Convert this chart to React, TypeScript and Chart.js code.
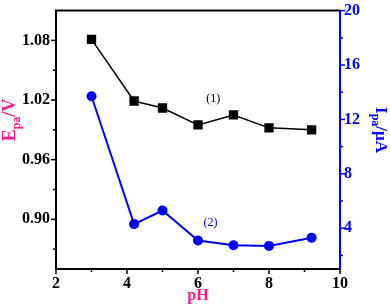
import React, { useEffect, useRef } from "react";
import { Chart, registerables } from "chart.js";

Chart.register(...registerables);

// ---- data ----
const phValues = [3, 4.2, 5, 6, 7, 8, 9.2];
const epaValues = [1.081, 1.019, 1.012, 0.995, 1.005, 0.992, 0.99];
const ipaValues = [13.7, 4.3, 5.3, 3.1, 2.75, 2.7, 3.3];

const xTicks = [2, 3, 4, 5, 6, 7, 8, 9, 10];
const xMajor = [2, 4, 6, 8, 10];
const yLeftTicks = [0.87, 0.9, 0.93, 0.96, 0.99, 1.02, 1.05, 1.08];
const yLeftMajor = [0.9, 0.96, 1.02, 1.08];
const yRightTicks = [2, 4, 6, 8, 10, 12, 14, 16, 18, 20];
const yRightMajor = [4, 8, 12, 16, 20];

const label1 = { text: "(1)", x: 6.43, y: 1.021 };
const label2 = { text: "(2)", x: 6.35, y: 4.4 };

const PINK = "#ff1a8c";
const BLUE = "#0000ff";
const SERIF = "'Liberation Serif', 'Times New Roman', serif";

const isIn = (arr: number[], v: number) => arr.some((a) => Math.abs(a - v) < 1e-6);

function drawRich(
  ctx: CanvasRenderingContext2D,
  cx: number,
  cy: number,
  angle: number,
  parts: { t: string; sub?: boolean }[],
  color: string,
  size: number
) {
  ctx.save();
  ctx.translate(cx, cy);
  ctx.rotate(angle);
  ctx.fillStyle = color;
  ctx.textBaseline = "alphabetic";
  ctx.textAlign = "left";
  const fontFor = (sub?: boolean) => `bold ${sub ? Math.round(size * 0.68) : size}px ${SERIF}`;
  let total = 0;
  const widths = parts.map((p) => {
    ctx.font = fontFor(p.sub);
    const w = ctx.measureText(p.t).width;
    total += w;
    return w;
  });
  let x = -total / 2;
  const base = size * 0.33;
  parts.forEach((p, i) => {
    ctx.font = fontFor(p.sub);
    ctx.fillText(p.t, x, base + (p.sub ? size * 0.28 : 0));
    x += widths[i];
  });
  ctx.restore();
}

const decorPlugin = {
  id: "decor",
  afterDraw(chart: any) {
    const ctx: CanvasRenderingContext2D = chart.ctx;
    const { left, right, top, bottom } = chart.chartArea;
    ctx.save();
    // top border
    ctx.strokeStyle = "#000";
    ctx.lineWidth = 2;
    ctx.beginPath();
    ctx.moveTo(left - 1, top);
    ctx.lineTo(right, top);
    ctx.stroke();

    // ticks
    const xs = chart.scales.x;
    const yl = chart.scales.y;
    const yr = chart.scales.y1;
    ctx.lineWidth = 1.5;
    ctx.strokeStyle = "#000";
    xs.ticks.forEach((t: any) => {
      const px = xs.getPixelForValue(t.value);
      const len = isIn(xMajor, t.value) ? 5 : 3;
      ctx.beginPath();
      ctx.moveTo(px, bottom);
      ctx.lineTo(px, bottom + len);
      ctx.stroke();
    });
    yl.ticks.forEach((t: any) => {
      const py = yl.getPixelForValue(t.value);
      const len = isIn(yLeftMajor, t.value) ? 5 : 3;
      ctx.beginPath();
      ctx.moveTo(left, py);
      ctx.lineTo(left - len, py);
      ctx.stroke();
    });
    ctx.strokeStyle = BLUE;
    yr.ticks.forEach((t: any) => {
      const py = yr.getPixelForValue(t.value);
      const len = isIn(yRightMajor, t.value) ? 5 : 3;
      ctx.beginPath();
      ctx.moveTo(right, py);
      ctx.lineTo(right + len, py);
      ctx.stroke();
    });

    // axis titles
    drawRich(ctx, (left + right) / 2, 295, 0, [{ t: "pH" }], PINK, 16);
    drawRich(
      ctx,
      9,
      120,
      -Math.PI / 2,
      [{ t: "E" }, { t: "pa", sub: true }, { t: "/V" }],
      PINK,
      18
    );
    drawRich(
      ctx,
      382,
      130,
      Math.PI / 2,
      [{ t: "I" }, { t: "pa", sub: true }, { t: "/μA" }],
      BLUE,
      17
    );

    // series labels
    ctx.font = `12px ${SERIF}`;
    ctx.textAlign = "center";
    ctx.textBaseline = "middle";
    ctx.fillStyle = "#000";
    ctx.fillText(label1.text, xs.getPixelForValue(label1.x), yl.getPixelForValue(label1.y));
    ctx.fillStyle = BLUE;
    ctx.fillText(label2.text, xs.getPixelForValue(label2.x), yr.getPixelForValue(label2.y));
    ctx.restore();
  },
};

export default function App() {
  const ref = useRef<HTMLCanvasElement | null>(null);
  useEffect(() => {
    document.body.style.margin = "0";
    if (!ref.current) return;
    const tickFont = { family: SERIF, size: 16, weight: "bold" as const };
    const chart = new Chart(ref.current, {
      type: "line",
      data: {
        datasets: [
          {
            label: "Epa",
            data: phValues.map((x, i) => ({ x, y: epaValues[i] })),
            yAxisID: "y",
            borderColor: "#000",
            backgroundColor: "#000",
            borderWidth: 1.5,
            pointStyle: "rect",
            pointRadius: 6.6,
            pointBorderWidth: 0,
            tension: 0,
          },
          {
            label: "Ipa",
            data: phValues.map((x, i) => ({ x, y: ipaValues[i] })),
            yAxisID: "y1",
            borderColor: BLUE,
            backgroundColor: BLUE,
            borderWidth: 2,
            pointStyle: "circle",
            pointRadius: 5,
            pointBorderWidth: 0,
            tension: 0,
          },
        ],
      },
      options: {
        responsive: false,
        animation: false,
        events: [],
        layout: { padding: { top: 7, left: 0, right: 0, bottom: 0 } },
        plugins: { legend: { display: false }, tooltip: { enabled: false } },
        scales: {
          x: {
            type: "linear",
            min: 2,
            max: 10,
            afterBuildTicks: (s: any) => {
              s.ticks = xTicks.map((v) => ({ value: v }));
            },
            afterFit: (s: any) => {
              s.height = 35;
            },
            grid: { display: true, drawOnChartArea: false, color: "rgba(0,0,0,0)", tickLength: 5 },
            border: { display: true, color: "#000", width: 2 },
            ticks: {
              padding: 0,
              maxRotation: 0,
              autoSkip: false,
              color: "#000",
              font: tickFont,
              callback: (v: any) => (isIn(xMajor, Number(v)) ? String(v) : ""),
            },
          },
          y: {
            type: "linear",
            position: "left",
            min: 0.85,
            max: 1.11,
            afterBuildTicks: (s: any) => {
              s.ticks = yLeftTicks.map((v) => ({ value: v }));
            },
            afterFit: (s: any) => {
              s.width = 56;
            },
            grid: { display: true, drawOnChartArea: false, color: "rgba(0,0,0,0)", tickLength: 5 },
            border: { display: true, color: "#000", width: 2 },
            ticks: {
              padding: 1,
              autoSkip: false,
              color: "#000",
              font: tickFont,
              callback: (v: any) => (isIn(yLeftMajor, Number(v)) ? Number(v).toFixed(2) : ""),
            },
          },
          y1: {
            type: "linear",
            position: "right",
            min: 1,
            max: 20,
            afterBuildTicks: (s: any) => {
              s.ticks = yRightTicks.map((v) => ({ value: v }));
            },
            afterFit: (s: any) => {
              s.width = 50;
            },
            grid: { display: true, drawOnChartArea: false, color: "rgba(0,0,0,0)", tickLength: 4 },
            border: { display: true, color: BLUE, width: 2 },
            ticks: {
              padding: 0,
              autoSkip: false,
              color: BLUE,
              font: tickFont,
              callback: (v: any) => (isIn(yRightMajor, Number(v)) ? String(v) : ""),
            },
          },
        },
      },
      plugins: [decorPlugin],
    });
    return () => chart.destroy();
  }, []);
  return (
    <div style={{ width: 390, height: 304, background: "#fff" }}>
      <canvas ref={ref} width={390} height={304} style={{ display: "block" }} />
    </div>
  );
}
